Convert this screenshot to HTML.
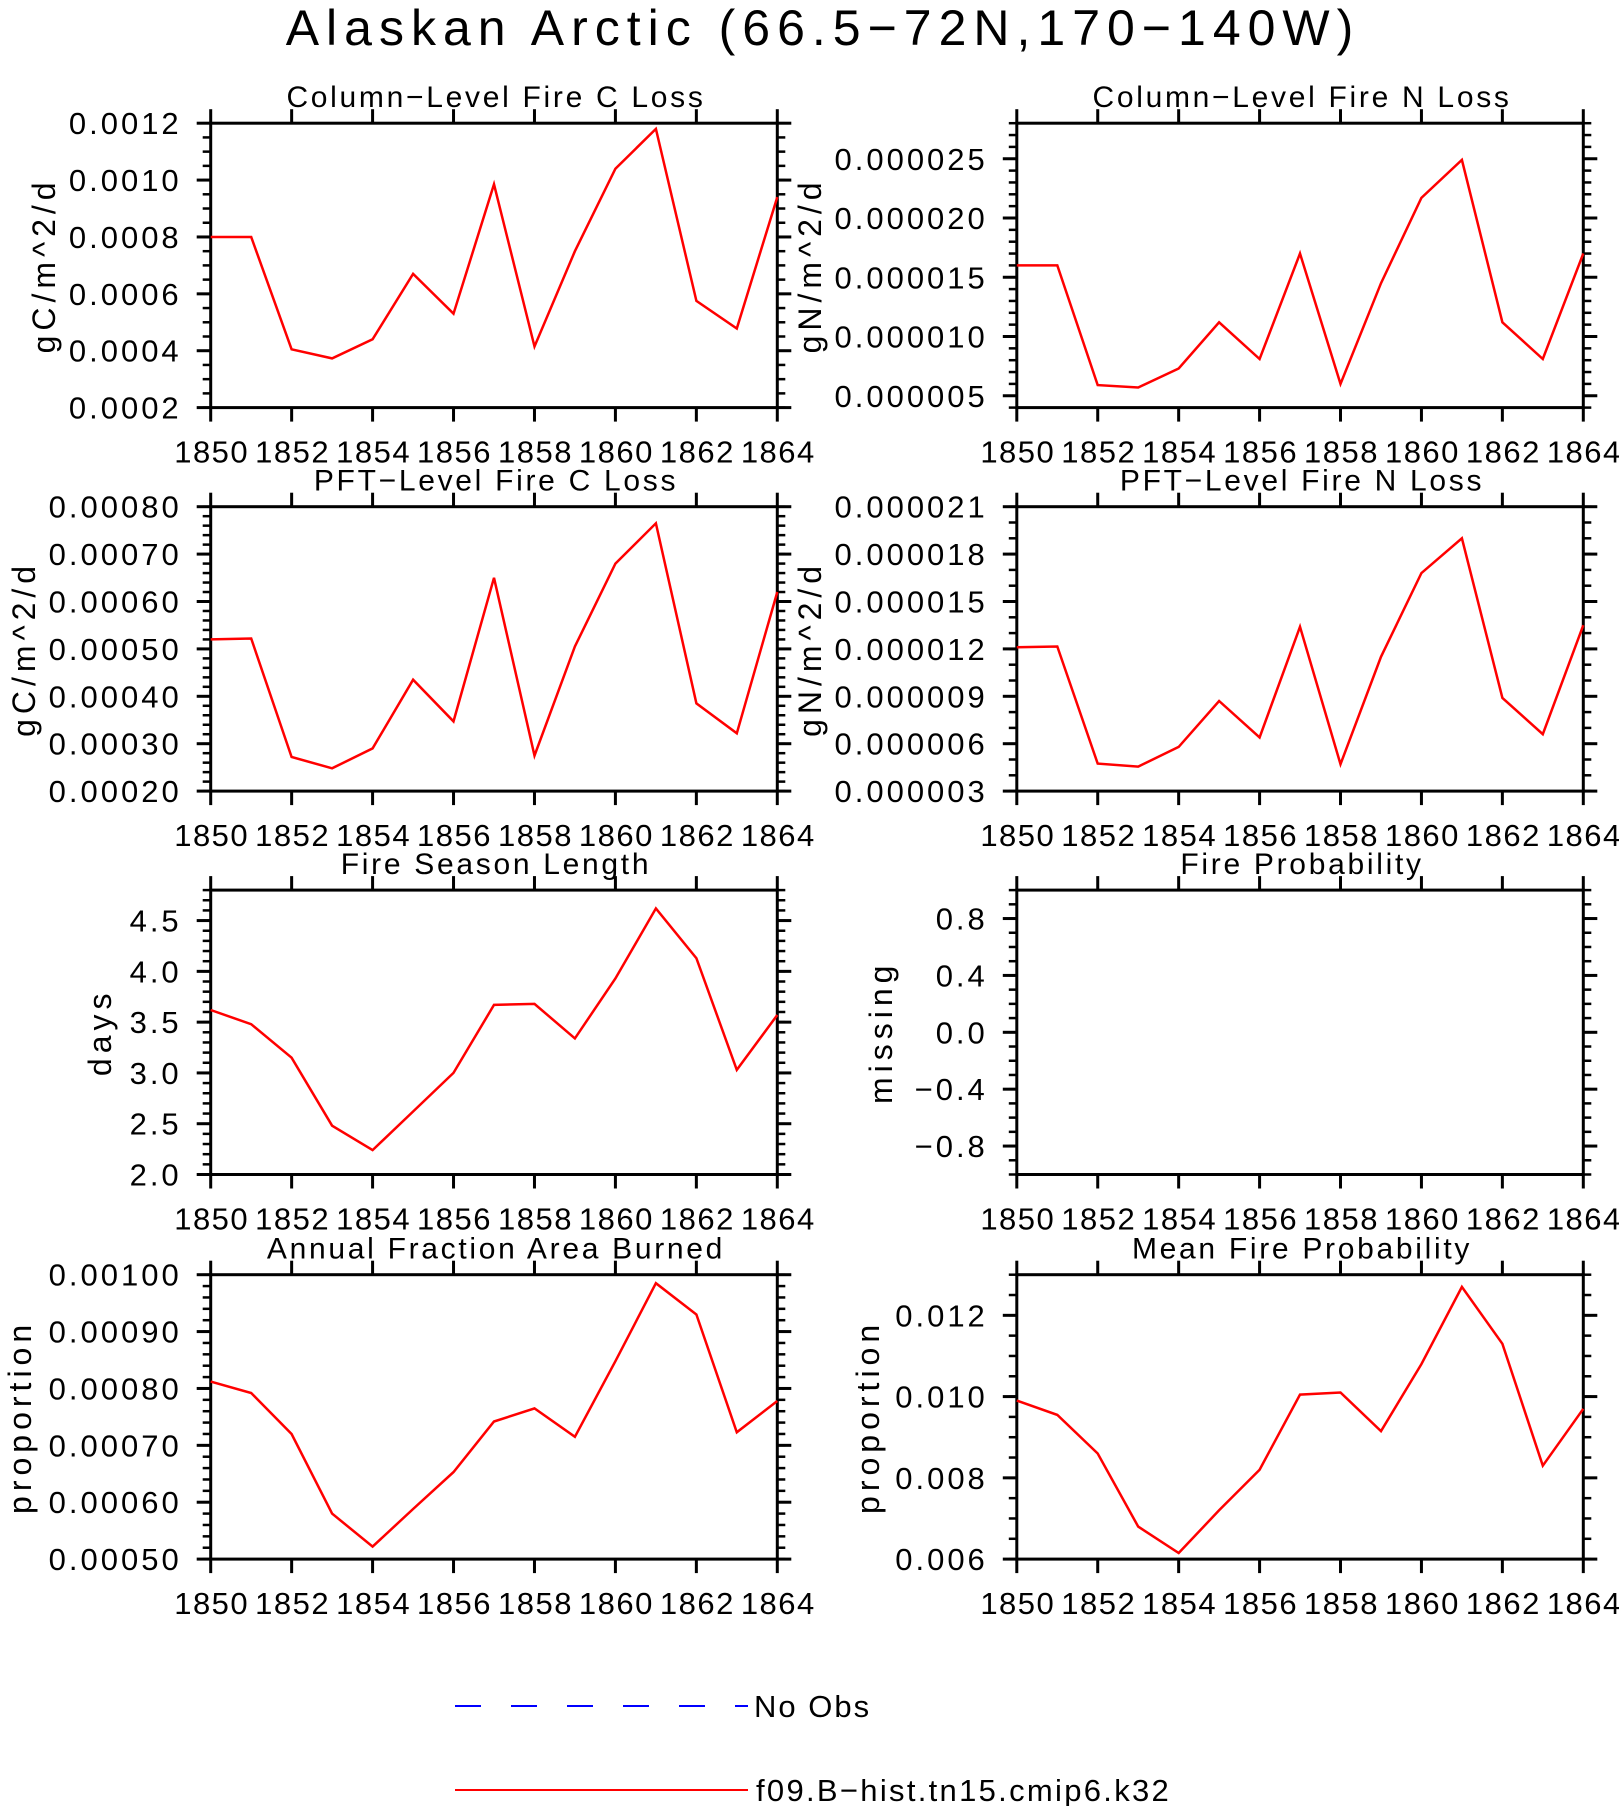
<!DOCTYPE html>
<html><head><meta charset="utf-8"><style>
html,body{margin:0;padding:0;background:#fff;}
svg{display:block;font-family:"Liberation Sans",sans-serif;}
</style></head><body>
<svg id="fig" width="1619" height="1806" viewBox="0 0 1619 1806" xmlns="http://www.w3.org/2000/svg">
<text x="823" y="45" font-size="50" text-anchor="middle" letter-spacing="7" fill="#000">Alaskan Arctic (66.5−72N,170−140W)</text>
<g>
<line x1="455" y1="1706" x2="748" y2="1706" stroke="#0000ff" stroke-width="2" stroke-dasharray="26,30"/>
<text x="754" y="1717" font-size="31" letter-spacing="2">No Obs</text>
<line x1="455" y1="1790" x2="748" y2="1790" stroke="#ff0000" stroke-width="2"/>
<text x="756" y="1801" font-size="31" letter-spacing="2.3">f09.B−hist.tn15.cmip6.k32</text>
</g>
</svg>
<script>
const years=[1850,1851,1852,1853,1854,1855,1856,1857,1858,1859,1860,1861,1862,1863,1864];
const xTicks=[1850,1852,1854,1856,1858,1860,1862,1864];
const colC=[0.0008,0.0008,0.000405,0.000373,0.00044,0.00067,0.00053,0.000985,0.000415,0.00075,0.00104,0.00118,0.000575,0.000478,0.00094];
const colN=[1.6e-5,1.6e-5,5.9e-6,5.7e-6,7.3e-6,1.12e-5,8.1e-6,1.7e-5,6.0e-6,1.45e-5,2.17e-5,2.49e-5,1.12e-5,8.1e-6,1.7e-5];
const pftC=[0.00052,0.000522,0.000272,0.000248,0.00029,0.000435,0.000347,0.00065,0.000275,0.000505,0.00068,0.000765,0.000385,0.000322,0.00062];
const pftN=[1.21e-5,1.215e-5,4.74e-6,4.55e-6,5.8e-6,8.7e-6,6.4e-6,1.34e-5,4.7e-6,1.15e-5,1.68e-5,1.9e-5,8.9e-6,6.6e-6,1.35e-5];
const seasonLen=[3.62,3.48,3.15,2.48,2.24,2.62,3.0,3.67,3.68,3.34,3.93,4.62,4.13,3.03,3.57];
const fireProb=[];
const fracBurned=[0.000812,0.000792,0.00072,0.00058,0.000522,0.000588,0.000653,0.000742,0.000765,0.000715,0.000848,0.000985,0.00093,0.000723,0.000778];
const meanProb=[0.0099,0.00955,0.0086,0.0068,0.00615,0.0072,0.0082,0.01005,0.0101,0.00915,0.0108,0.0127,0.0113,0.0083,0.0097];
const ticks1=[0.0002,0.0004,0.0006,0.0008,0.0010,0.0012];
const labels1=["0.0002","0.0004","0.0006","0.0008","0.0010","0.0012"];
const ticks2=[5e-6,1e-5,1.5e-5,2e-5,2.5e-5];
const labels2=["0.000005","0.000010","0.000015","0.000020","0.000025"];
const ticks3=[0.0002,0.0003,0.0004,0.0005,0.0006,0.0007,0.0008];
const labels3=["0.00020","0.00030","0.00040","0.00050","0.00060","0.00070","0.00080"];
const ticks4=[3e-6,6e-6,9e-6,1.2e-5,1.5e-5,1.8e-5,2.1e-5];
const labels4=["0.000003","0.000006","0.000009","0.000012","0.000015","0.000018","0.000021"];
const ticks5=[2.0,2.5,3.0,3.5,4.0,4.5];
const labels5=["2.0","2.5","3.0","3.5","4.0","4.5"];
const ticks6=[-0.8,-0.4,0,0.4,0.8];
const labels6=["−0.8","−0.4","0.0","0.4","0.8"];
const ticks7=[0.0005,0.0006,0.0007,0.0008,0.0009,0.0010];
const labels7=["0.00050","0.00060","0.00070","0.00080","0.00090","0.00100"];
const ticks8=[0.006,0.008,0.010,0.012];
const labels8=["0.006","0.008","0.010","0.012"];

const NS="http://www.w3.org/2000/svg";
const svg=document.getElementById('fig');
function mk(tag,attrs,parent){const e=document.createElementNS(NS,tag);for(const k in attrs)e.setAttribute(k,attrs[k]);parent.appendChild(e);return e;}

const panels=[
 {name:'column-c-loss',title:'Column−Level Fire C Loss',ylab:'gC/m^2/d',data:colC,ymin:0.0002,ymax:0.0012,ticks:ticks1,labels:labels1,minorStep:0.00005,x0:210.7,x1:777.3,y0:123.2,y1:407.6,ylx:42},
 {name:'column-n-loss',title:'Column−Level Fire N Loss',ylab:'gN/m^2/d',data:colN,ymin:4e-6,ymax:2.8e-5,ticks:ticks2,labels:labels2,minorStep:1e-6,x0:1016.8,x1:1583.3,y0:123.2,y1:407.6,ylx:808},
 {name:'pft-c-loss',title:'PFT−Level Fire C Loss',ylab:'gC/m^2/d',data:pftC,ymin:0.0002,ymax:0.0008,ticks:ticks3,labels:labels3,minorStep:0.00002,x0:210.7,x1:777.3,y0:506.7,y1:791.1,ylx:22},
 {name:'pft-n-loss',title:'PFT−Level Fire N Loss',ylab:'gN/m^2/d',data:pftN,ymin:3e-6,ymax:2.1e-5,ticks:ticks4,labels:labels4,minorStep:1e-6,x0:1016.8,x1:1583.3,y0:506.7,y1:791.1,ylx:808},
 {name:'fire-season-length',title:'Fire Season Length',ylab:'days',data:seasonLen,ymin:2.0,ymax:4.8,ticks:ticks5,labels:labels5,minorStep:0.1,x0:210.7,x1:777.3,y0:890.1,y1:1174.5,ylx:98},
 {name:'fire-probability',title:'Fire Probability',ylab:'missing',data:fireProb,ymin:-1,ymax:1,ticks:ticks6,labels:labels6,minorStep:0.1,x0:1016.8,x1:1583.3,y0:890.1,y1:1174.5,ylx:879},
 {name:'annual-fraction-burned',title:'Annual Fraction Area Burned',ylab:'proportion',data:fracBurned,ymin:0.0005,ymax:0.001,ticks:ticks7,labels:labels7,minorStep:0.00002,x0:210.7,x1:777.3,y0:1274.7,y1:1559.1,ylx:18},
 {name:'mean-fire-probability',title:'Mean Fire Probability',ylab:'proportion',data:meanProb,ymin:0.006,ymax:0.013,ticks:ticks8,labels:labels8,minorStep:0.0005,x0:1016.8,x1:1583.3,y0:1274.7,y1:1559.1,ylx:866}
];

panels.forEach(p=>{
 const g=mk('g',{},svg);
 
 
 const xs=v=>p.x0+(v-1850)/(1864-1850)*(p.x1-p.x0);
 const ys=v=>p.y1-(v-p.ymin)/(p.ymax-p.ymin)*(p.y1-p.y0);
 const eps=(p.ymax-p.ymin)*1e-6;
 for(let v=Math.ceil(p.ymin/p.minorStep-1e-6)*p.minorStep; v<=p.ymax+eps; v+=p.minorStep){
  const y=ys(v);
  const l1=mk('line',{x1:p.x0-8,y1:y,x2:p.x0,y2:y,stroke:'#000','stroke-width':2.5},g);
  
  
  const l2=mk('line',{x1:p.x1,y1:y,x2:p.x1+8,y2:y,stroke:'#000','stroke-width':2.5},g);
  
  
 }
 p.ticks.forEach((v,i)=>{
  const y=ys(v);
  const l1=mk('line',{x1:p.x0-14,y1:y,x2:p.x0,y2:y,stroke:'#000','stroke-width':3},g);
  
  
  const l2=mk('line',{x1:p.x1,y1:y,x2:p.x1+14,y2:y,stroke:'#000','stroke-width':3},g);
  
  
  const t=mk('text',{x:p.x0-29,y:y+11,'font-size':31,'text-anchor':'end','letter-spacing':3},g);
  t.textContent=p.labels[i];
  
  
 });
 xTicks.forEach(v=>{
  const x=xs(v);
  const l1=mk('line',{x1:x,y1:p.y1,x2:x,y2:p.y1+14,stroke:'#000','stroke-width':3},g);
  
  
  const l2=mk('line',{x1:x,y1:p.y0-14,x2:x,y2:p.y0,stroke:'#000','stroke-width':3},g);
  
  
  const t=mk('text',{x:x+1,y:p.y1+55,'font-size':31,'text-anchor':'middle','letter-spacing':1.5},g);
  t.textContent=String(v);
  
  
 });
 const r=mk('rect',{x:p.x0,y:p.y0,width:p.x1-p.x0,height:p.y1-p.y0,fill:'none',stroke:'#000','stroke-width':3},g);
 
 
 if(p.data.length){
  const pts=p.data.map((v,i)=>xs(years[i]).toFixed(1)+','+ys(v).toFixed(1)).join(' ');
  const pl=mk('polyline',{points:pts,fill:'none',stroke:'#ff0000','stroke-width':2.5,'stroke-linejoin':'miter'},g);
  
  
 }
 const tt=mk('text',{x:(p.x0+p.x1)/2+2,y:p.y0-16,'font-size':30,'text-anchor':'middle','letter-spacing':2.7},g);
 tt.textContent=p.title;
 
 
 const cy=(p.y0+p.y1)/2;
 const yl=mk('text',{x:p.ylx,y:cy+2,'font-size':32,'text-anchor':'middle','letter-spacing':5,transform:'rotate(-90 '+p.ylx+' '+cy+')','dominant-baseline':'central'},g);
 yl.textContent=p.ylab;
 
 
});
</script>
</body></html>
